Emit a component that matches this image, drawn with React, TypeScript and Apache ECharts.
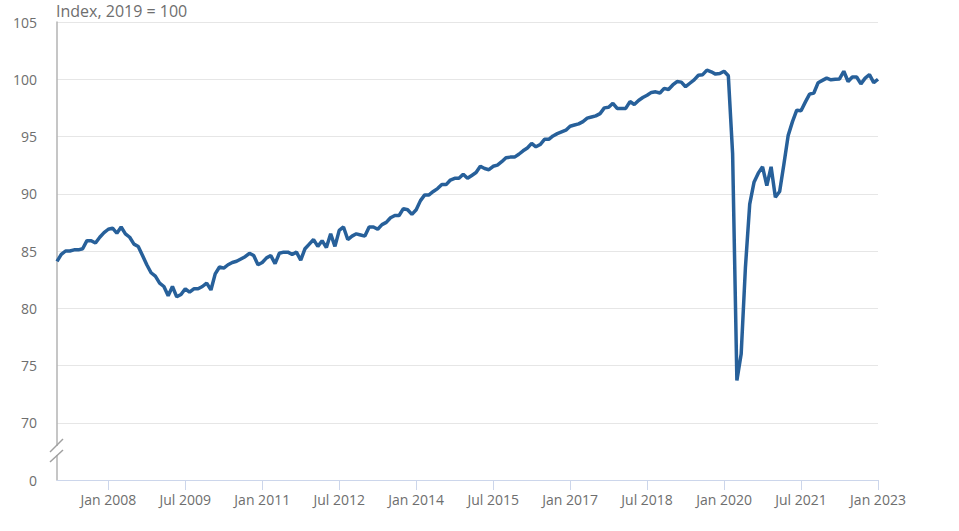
import * as echarts from "echarts";
import { useEffect, useRef } from "react";

// monthly index, 2019 = 100, Jan 2007 .. Jan 2023
const y2007 = [84.1, 84.7, 85.0, 85.0, 85.1, 85.1, 85.2, 85.9, 85.9, 85.7, 86.2, 86.6];
const y2008 = [86.9, 87.0, 86.55, 87.1, 86.5, 86.2, 85.6, 85.4, 84.6, 83.8, 83.1, 82.8];
const y2009 = [82.2, 81.9, 81.1, 81.9, 81.0, 81.2, 81.7, 81.4, 81.7, 81.7, 81.9, 82.2];
const y2010 = [81.6, 83.0, 83.6, 83.5, 83.8, 84.0, 84.1, 84.3, 84.5, 84.8, 84.6, 83.8];
const y2011 = [84.0, 84.4, 84.6, 83.9, 84.8, 84.9, 84.9, 84.7, 84.9, 84.2, 85.2, 85.6];
const y2012 = [86.0, 85.4, 85.9, 85.3, 86.5, 85.4, 86.8, 87.1, 86.0, 86.3, 86.5, 86.4];
const y2013 = [86.3, 87.1, 87.1, 86.9, 87.3, 87.5, 87.9, 88.1, 88.1, 88.7, 88.6, 88.2];
const y2014 = [88.6, 89.4, 89.9, 89.9, 90.2, 90.45, 90.8, 90.8, 91.2, 91.35, 91.35, 91.7];
const y2015 = [91.35, 91.6, 91.85, 92.4, 92.2, 92.1, 92.4, 92.5, 92.8, 93.15, 93.2, 93.2];
const y2016 = [93.45, 93.75, 94.0, 94.4, 94.1, 94.3, 94.75, 94.75, 95.05, 95.25, 95.4, 95.55];
const y2017 = [95.9, 96.0, 96.1, 96.3, 96.6, 96.7, 96.8, 97.0, 97.5, 97.55, 97.9, 97.45];
const y2018 = [97.45, 97.45, 98.05, 97.8, 98.15, 98.4, 98.6, 98.85, 98.9, 98.8, 99.2, 99.1];
const y2019 = [99.5, 99.8, 99.75, 99.35, 99.65, 99.95, 100.35, 100.4, 100.8, 100.65, 100.45, 100.5];
const y2020 = [100.7, 100.3, 93.5, 73.7, 76.0, 83.6, 89.1, 91.0, 91.8, 92.35, 90.7, 92.35];
const y2021 = [89.7, 90.2, 92.6, 95.1, 96.3, 97.3, 97.25, 98.0, 98.7, 98.8, 99.7, 99.9];
const y2022 = [100.1, 99.95, 100.0, 100.03, 100.7, 99.8, 100.2, 100.2, 99.6, 100.1, 100.4, 99.7];
const y2023 = [100.0];

const values = [
  ...y2007, ...y2008, ...y2009, ...y2010, ...y2011, ...y2012, ...y2013, ...y2014,
  ...y2015, ...y2016, ...y2017, ...y2018, ...y2019, ...y2020, ...y2021, ...y2022, ...y2023,
];

const monthNames = ["Jan", "Feb", "Mar", "Apr", "May", "Jun", "Jul", "Aug", "Sep", "Oct", "Nov", "Dec"];
const firstYear = 2007;
const months = values.map((_, i) => `${monthNames[i % 12]} ${firstYear + Math.floor(i / 12)}`);

// labelled every 18 months, starting Jan 2008
const tickLabels = ["Jan 2008", "Jul 2009", "Jan 2011", "Jul 2012", "Jan 2014", "Jul 2015",
  "Jan 2017", "Jul 2018", "Jan 2020", "Jul 2021", "Jan 2023"];

const FONT = "'Open Sans', sans-serif";
const GREY = "#6e6e6e";

export default function App() {
  const chartRef = useRef<HTMLDivElement | null>(null);

  useEffect(() => {
    if (!chartRef.current) return;
    const chart = echarts.init(chartRef.current, undefined, { renderer: "svg" });
    const showTick = (i: number) => tickLabels.includes(months[i]);

    chart.setOption({
      animation: false,
      backgroundColor: "#ffffff",
      textStyle: { fontFamily: FONT },
      grid: { left: 57, right: 81, top: 22, bottom: 51 },
      xAxis: {
        type: "category",
        data: months,
        boundaryGap: false,
        axisLine: { lineStyle: { color: "#ccd6eb", width: 1 } },
        axisTick: { show: true, length: 10, interval: (i: number) => showTick(i), lineStyle: { color: "#ccd6eb" } },
        axisLabel: {
          interval: (i: number) => showTick(i),
          color: GREY,
          fontSize: 14,
          fontFamily: FONT,
          margin: 12,
        },
        splitLine: { show: false },
      },
      yAxis: {
        type: "value",
        min: 65,
        max: 105,
        interval: 5,
        axisLine: { show: true, lineStyle: { color: "#b3b3b3", width: 1.5 } },
        axisTick: { show: false },
        axisLabel: {
          color: GREY,
          fontSize: 14,
          fontFamily: FONT,
          margin: 20,
          formatter: (v: number) => (v === 65 ? "0" : String(v)),
        },
        splitLine: { lineStyle: { color: "#e6e6e6", width: 1 } },
      },
      graphic: [
        {
          type: "text",
          x: 56,
          y: 11,
          style: {
            text: "Index, 2019 = 100",
            fill: GREY,
            fontSize: 16,
            fontFamily: FONT,
            verticalAlign: "middle",
          },
        },
        {
          type: "rect",
          shape: { x: 54, y: 446, width: 6, height: 9 },
          style: { fill: "#ffffff" },
          z: 100,
        },
        {
          type: "line",
          shape: { x1: 50, y1: 452, x2: 63, y2: 439 },
          style: { stroke: "#a0a0a0", lineWidth: 1.5 },
          z: 101,
        },
        {
          type: "line",
          shape: { x1: 50, y1: 462, x2: 63, y2: 450 },
          style: { stroke: "#a0a0a0", lineWidth: 1.5 },
          z: 101,
        },
      ],
      series: [
        {
          type: "line",
          data: values,
          showSymbol: false,
          lineStyle: { color: "#27609a", width: 3.5 },
          itemStyle: { color: "#27609a" },
        },
      ],
    });

    return () => {
      chart.dispose();
    };
  }, []);

  return (
    <div
      ref={chartRef}
      style={{ position: "fixed", left: 0, top: 0, width: 959, height: 531 }}
    />
  );
}
